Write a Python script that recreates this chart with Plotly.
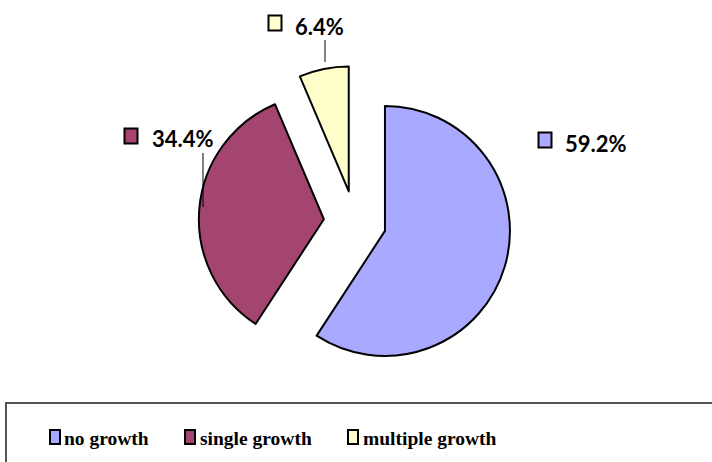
import plotly.graph_objects as go

categories = ["no growth", "single growth", "multiple growth"]
values = [59.2, 34.4, 6.4]
colors = ["#A9A9FF", "#A3456F", "#FFFFCC"]
label_text = ["59.2%", "34.4%", "6.4%"]

W, H = 712, 462
R = 125
PULL = 0.25
CX, CY = 355, 222  # pie centre in px

box = 2 * R * (1 + PULL)
dom_y = [1 - (CY + box / 2) / H, 1 - (CY - box / 2) / H]
dom_x = [(CX - 200) / W, (CX + 200) / W]

fig = go.Figure(go.Pie(
    labels=categories, values=values, sort=False, direction="clockwise",
    rotation=0, pull=[PULL] * 3, textinfo="none", hoverinfo="label+percent",
    marker=dict(colors=colors, line=dict(color="black", width=2)),
    domain=dict(x=dom_x, y=dom_y), showlegend=False,
))


def px(x):
    return x / W


def py(y):
    return 1 - y / H


annotations = []
shapes = []


def key(kx, ky, c):
    shapes.append(dict(type="rect", xref="paper", yref="paper",
                       x0=px(kx - 6.5), x1=px(kx + 6.5), y0=py(ky + 7.5), y1=py(ky - 7.5),
                       fillcolor=c, line=dict(color="black", width=2)))


# data labels (text centre px) and key squares
label_pos = [(596, 143), (183, 138), (319, 27)]
key_pos = [(545, 140), (131, 136), (275, 23)]
for t, (lx, ly), (kx, ky), c in zip(label_text, label_pos, key_pos, colors):
    annotations.append(dict(
        x=px(lx), y=py(ly), xref="paper", yref="paper", text=t, showarrow=False,
        font=dict(family="Lato", size=22, color="black", weight="bold"),
        xanchor="center", yanchor="middle"))
    key(kx, ky, c)

# leader lines
shapes.append(dict(type="line", xref="paper", yref="paper",
                   x0=px(203), x1=px(203), y0=py(153), y1=py(207),
                   line=dict(color="black", width=1)))
shapes.append(dict(type="line", xref="paper", yref="paper",
                   x0=px(325), x1=px(325), y0=py(40), y1=py(62),
                   line=dict(color="black", width=1)))

# legend frame
shapes.append(dict(type="rect", xref="paper", yref="paper",
                   x0=px(6), x1=1.02, y0=-0.02, y1=py(403),
                   line=dict(color="#555555", width=2), fillcolor="rgba(0,0,0,0)"))

# legend entries
legend_key_x = [55, 190, 353]
legend_text_x = [62, 198, 361]
LEG_Y = 437
for name, kx, tx, c in zip(categories, legend_key_x, legend_text_x, colors):
    shapes.append(dict(type="rect", xref="paper", yref="paper",
                       x0=px(kx - 5), x1=px(kx + 5), y0=py(LEG_Y + 7), y1=py(LEG_Y - 7),
                       fillcolor=c, line=dict(color="black", width=2)))
    annotations.append(dict(
        x=px(tx), y=py(LEG_Y + 1.5), xref="paper", yref="paper", text=name, showarrow=False,
        font=dict(family="Liberation Serif", size=19.5, color="black", weight="bold"),
        xanchor="left", yanchor="middle"))

fig.update_layout(
    width=W, height=H, margin=dict(l=0, r=0, t=0, b=0),
    paper_bgcolor="white", plot_bgcolor="white",
    showlegend=False,
    annotations=annotations, shapes=shapes,
)

fig.write_html("out.html", config={"displayModeBar": False},
               post_script="document.body.style.margin='0';")
